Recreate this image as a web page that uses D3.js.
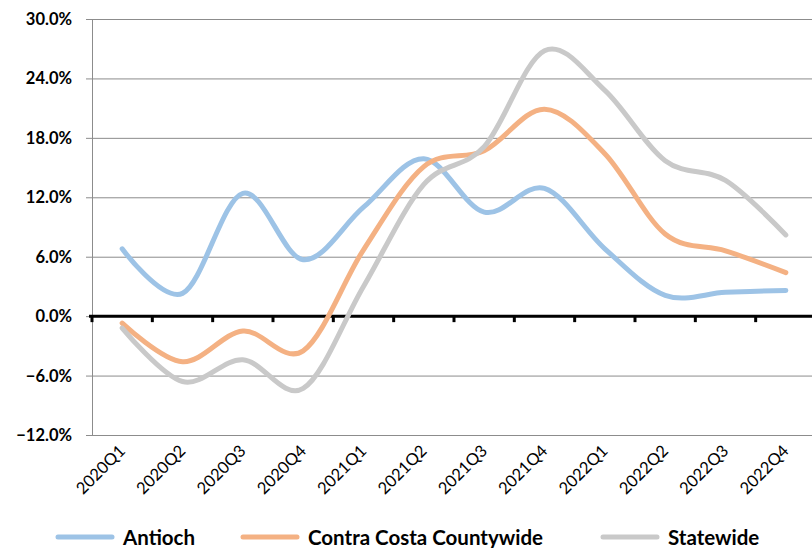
<!DOCTYPE html>
<html>
<head>
<meta charset="utf-8">
<script src="https://cdn.jsdelivr.net/npm/d3@7"></script>
<style>
  body { margin: 0; background: #fff; }
  svg { display: block; font-family: Lato, "Open Sans", sans-serif; }
</style>
</head>
<body>
<div id="chart"></div>
<script>
// quarters on the x axis
const quarters = ["2020Q1","2020Q2","2020Q3","2020Q4","2021Q1","2021Q2","2021Q3","2021Q4","2022Q1","2022Q2","2022Q3","2022Q4"];
// percent change values
const antioch   = [6.8, 2.3, 12.4, 5.7, 11.0, 15.9, 10.5, 12.9, 6.8, 2.1, 2.4, 2.6];
const contraCosta = [-0.7, -4.6, -1.5, -3.5, 6.7, 15.1, 16.7, 20.9, 16.4, 8.3, 6.6, 4.4];
const statewide = [-1.2, -6.6, -4.4, -7.3, 3.0, 13.3, 17.1, 26.8, 22.8, 15.7, 13.7, 8.2];
const yTicks = [-12, -6, 0, 6, 12, 18, 24, 30];

const seriesNames = ["Antioch", "Contra Costa Countywide", "Statewide"];
const seriesColors = ["#9DC3E6", "#F4B183", "#C9C9C9"];
const seriesValues = [antioch, contraCosta, statewide];

const W = 812, H = 548;
const margin = { top: 19, left: 92 };
const plotW = 724, plotH = 416;

const svg = d3.select("#chart").append("svg")
  .attr("width", W).attr("height", H);

const x = d3.scaleBand().domain(quarters).range([margin.left, margin.left + plotW]);
const y = d3.scaleLinear().domain([-12, 30]).range([margin.top + plotH, margin.top]);

// horizontal gridlines + small outer ticks
svg.append("g").selectAll("line").data(yTicks).enter().append("line")
  .attr("x1", margin.left - 6).attr("x2", W)
  .attr("y1", d => y(d) + 0.5).attr("y2", d => y(d) + 0.5)
  .attr("stroke", "#8c8c8c").attr("stroke-width", 1);

// vertical axis line
svg.append("line")
  .attr("x1", margin.left + 0.5).attr("x2", margin.left + 0.5)
  .attr("y1", y(30)).attr("y2", y(-12))
  .attr("stroke", "#8c8c8c").attr("stroke-width", 1);

// y labels
svg.append("g").selectAll("text").data(yTicks).enter().append("text")
  .attr("x", 72).attr("y", d => y(d) + 6)
  .attr("text-anchor", "end")
  .attr("font-size", 16.5).attr("font-weight", "bold").attr("fill", "#000")
  .text(d => d3.format(".1f")(d) + "%");

// zero axis (black) with tick marks at category boundaries
const zeroY = y(0);
svg.append("line")
  .attr("x1", margin.left - 3).attr("x2", W)
  .attr("y1", zeroY).attr("y2", zeroY)
  .attr("stroke", "#000").attr("stroke-width", 3);
svg.append("g").selectAll("line").data(quarters).enter().append("line")
  .attr("x1", d => x(d)).attr("x2", d => x(d))
  .attr("y1", zeroY).attr("y2", zeroY + 6)
  .attr("stroke", "#000").attr("stroke-width", 3);

// x labels rotated
svg.append("g").selectAll("text").data(quarters).enter().append("text")
  .attr("transform", d => "translate(" + (x(d) + x.bandwidth() / 2 + 4) + "," + (y(-12) + 17) + ") rotate(-45)")
  .attr("text-anchor", "end")
  .attr("font-size", 16.5).attr("fill", "#000")
  .text(d => d);

// lines
const line = d3.line()
  .x((d, i) => x(quarters[i]) + x.bandwidth() / 2)
  .y(d => y(d))
  .curve(d3.curveCatmullRom.alpha(0));

svg.append("g").selectAll("path").data(seriesValues).enter().append("path")
  .attr("d", d => line(d))
  .attr("fill", "none")
  .attr("stroke", (d, i) => seriesColors[i])
  .attr("stroke-width", 5)
  .attr("stroke-linecap", "round")
  .attr("stroke-linejoin", "round");

// legend
const legendX = [58, 243, 603];
const leg = svg.append("g").selectAll("g").data(seriesNames).enter().append("g")
  .attr("transform", (d, i) => "translate(" + legendX[i] + ",537)");
leg.append("line")
  .attr("x1", 0).attr("x2", 54).attr("y1", 0).attr("y2", 0)
  .attr("stroke", (d, i) => seriesColors[i]).attr("stroke-width", 5)
  .attr("stroke-linecap", "round");
leg.append("text")
  .attr("x", 65).attr("y", 8)
  .attr("font-size", 20.5).attr("font-weight", "bold").attr("fill", "#000")
  .text(d => d);
</script>
</body>
</html>
